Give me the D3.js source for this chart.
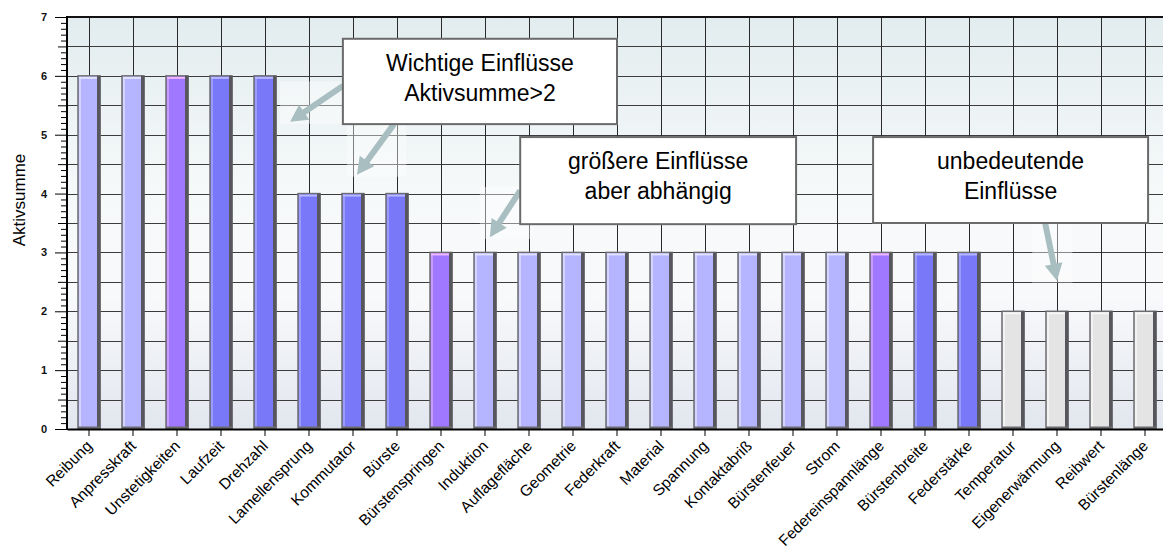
<!DOCTYPE html>
<html>
<head>
<meta charset="utf-8">
<script src="https://cdn.jsdelivr.net/npm/d3@7"></script>
<style>
  html, body { margin: 0; padding: 0; background: #ffffff; }
  svg { display: block; font-family: Arial, "Liberation Sans", sans-serif; }
</style>
</head>
<body>
<svg id="chart" width="1163" height="551"></svg>
<script>
// Influence factors and their active sums
const categories = [
  "Reibung", "Anpresskraft", "Unstetigkeiten", "Laufzeit", "Drehzahl",
  "Lamellensprung", "Kommutator", "Bürste", "Bürstenspringen", "Induktion",
  "Auflagefläche", "Geometrie", "Federkraft", "Material", "Spannung",
  "Kontaktabriß", "Bürstenfeuer", "Strom", "Federeinspannlänge", "Bürstenbreite",
  "Federstärke", "Temperatur", "Eigenerwärmung", "Reibwert", "Bürstenlänge"
];
const values = [6, 6, 6, 6, 6, 4, 4, 4, 3, 3, 3, 3, 3, 3, 3, 3, 3, 3, 3, 3, 3, 2, 2, 2, 2];
const tones = [
  "light", "light", "violet", "blue", "blue",
  "blue", "blue", "blue", "violet", "light",
  "light", "light", "light", "light", "light",
  "light", "light", "light", "violet", "blue",
  "blue", "grey", "grey", "grey", "grey"
];
const yTicks = [0, 1, 2, 3, 4, 5, 6, 7];
const yTitle = "Aktivsumme";

// Callout notes, placed in data units (category index, value)
const callouts = [
  { lines: ["Wichtige Einflüsse", "Aktivsumme>2"], box: [5.77, 12.0, 6.63, 5.18],
    arrows: [{ from: [5.77, 5.83], to: [4.57, 5.22] }, { from: [6.93, 5.18], to: [6.09, 4.32] }] },
  { lines: ["größere Einflüsse", "aber abhängig"], box: [9.8, 16.07, 4.96, 3.48],
    arrows: [{ from: [9.8, 4.05], to: [9.11, 3.26] }] },
  { lines: ["unbedeutende", "Einflüsse"], box: [17.82, 24.07, 4.96, 3.5],
    arrows: [{ from: [21.73, 3.5], to: [22.0, 2.52] }] }
];

const palette = {
  light:  { fill: "#b4b4ff", hi: "#d4d4ff", top: "#e2e2ff" },
  violet: { fill: "#a078ff", hi: "#c89cff", top: "#f0b8ff" },
  blue:   { fill: "#7878f8", hi: "#9a9aff", top: "#b8b8ff" },
  grey:   { fill: "#e4e4e4", hi: "#f2f2f2", top: "#f6f6f6" }
};

const plot = { left: 67, right: 1167, top: 17, bottom: 429 };

const svg = d3.select("#chart");

const x = d3.scaleBand()
  .domain(categories)
  .range([plot.left, plot.right])
  .paddingInner(0.5)
  .paddingOuter(0.25);
const y = d3.scaleLinear().domain([0, 7]).range([plot.bottom, plot.top]);

const xAt = i => x(categories[0]) + x.bandwidth() / 2 + i * x.step();

// Plot background gradient
const defs = svg.append("defs");
const grad = defs.append("linearGradient")
  .attr("id", "bg").attr("x1", 0).attr("y1", 0).attr("x2", 0).attr("y2", 1);
[[0, "#e2ecee"], [0.42, "#f6f9fa"], [0.68, "#f8f9fb"], [1, "#e2e6ee"]].forEach(([o, c]) =>
  grad.append("stop").attr("offset", o).attr("stop-color", c));

svg.append("rect")
  .attr("x", plot.left).attr("y", plot.top)
  .attr("width", plot.right - plot.left).attr("height", plot.bottom - plot.top)
  .attr("fill", "url(#bg)");

// Grid
const grid = svg.append("g");
grid.selectAll("line.h")
  .data(d3.range(1, 14).map(k => k / 2))
  .join("line")
  .attr("x1", plot.left).attr("x2", plot.right)
  .attr("y1", d => Math.round(y(d)) + 0.5).attr("y2", d => Math.round(y(d)) + 0.5)
  .attr("stroke", "#3c3c3c").attr("stroke-width", 1);
grid.selectAll("line.v")
  .data(categories)
  .join("line")
  .attr("x1", d => Math.round(x(d) + x.bandwidth() / 2) + 0.5)
  .attr("x2", d => Math.round(x(d) + x.bandwidth() / 2) + 0.5)
  .attr("y1", plot.top).attr("y2", plot.bottom)
  .attr("stroke", "#2a2a2a").attr("stroke-width", 1);

// Bars with bevelled edges
const bars = svg.append("g").selectAll("g")
  .data(categories.map((c, i) => ({ c, v: values[i], t: palette[tones[i]] })))
  .join("g");

bars.append("rect")
  .attr("x", d => x(d.c)).attr("y", d => y(d.v))
  .attr("width", x.bandwidth()).attr("height", d => y(0) - y(d.v))
  .attr("fill", d => d.t.fill)
  .attr("stroke", "#6c6c70").attr("stroke-width", 1.5);
bars.append("rect")
  .attr("x", d => x(d.c) + 1).attr("y", d => y(d.v) + 1)
  .attr("width", 2).attr("height", d => y(0) - y(d.v) - 2)
  .attr("fill", d => d.t.hi);
bars.append("rect")
  .attr("x", d => x(d.c) + 1).attr("y", d => y(d.v) + 1)
  .attr("width", x.bandwidth() - 4).attr("height", 2)
  .attr("fill", d => d.t.top);
bars.append("rect")
  .attr("x", d => x(d.c) + x.bandwidth() - 3).attr("y", d => y(d.v))
  .attr("width", 3.5).attr("height", d => y(0) - y(d.v))
  .attr("fill", "#56565c");
bars.append("rect")
  .attr("x", d => x(d.c)).attr("y", y(0) - 2.5)
  .attr("width", x.bandwidth()).attr("height", 2.5)
  .attr("fill", "#6c6c70");

// Top frame line
svg.append("line")
  .attr("x1", plot.left).attr("x2", plot.right)
  .attr("y1", plot.top).attr("y2", plot.top)
  .attr("stroke", "#111").attr("stroke-width", 2);

// Y axis with minor ticks
const yMinor = d3.range(1, 70).map(k => k / 10).filter(v => Math.abs(v * 2 - Math.round(v * 2)) > 1e-6);
const yHalf = d3.range(1, 14, 2).map(k => k / 2);
const gyMinor = svg.append("g").attr("transform", `translate(${plot.left},0)`)
  .call(d3.axisLeft(y).tickValues(yMinor).tickSize(6).tickFormat(""));
const gyHalf = svg.append("g").attr("transform", `translate(${plot.left},0)`)
  .call(d3.axisLeft(y).tickValues(yHalf).tickSize(9).tickFormat(""));
const gy = svg.append("g").attr("transform", `translate(${plot.left},0)`)
  .call(d3.axisLeft(y).tickValues(yTicks).tickSize(12).tickPadding(8).tickFormat(d3.format("d")));
[gyMinor, gyHalf, gy].forEach(g => {
  g.select(".domain").remove();
  g.selectAll(".tick line").attr("stroke", "#000").attr("stroke-width", 1);
});
gy.selectAll(".tick text")
  .attr("font-size", 11).attr("font-weight", "bold").attr("fill", "#111")
  .attr("font-family", "Arial, 'Liberation Sans', sans-serif");
svg.append("line")
  .attr("x1", plot.left).attr("x2", plot.left)
  .attr("y1", plot.top - 1).attr("y2", plot.bottom + 1)
  .attr("stroke", "#000").attr("stroke-width", 2);

// X axis
const gx = svg.append("g").attr("transform", `translate(0,${plot.bottom})`)
  .call(d3.axisBottom(x).tickSize(7).tickSizeOuter(0));
gx.select(".domain").attr("stroke", "#000").attr("stroke-width", 2);
gx.selectAll(".tick line").attr("stroke", "#000");
gx.selectAll(".tick text")
  .attr("font-size", 15.5).attr("fill", "#000")
  .attr("font-family", "Arial, 'Liberation Sans', sans-serif")
  .attr("text-anchor", "end")
  .attr("x", 0).attr("y", 0).attr("dy", 0)
  .attr("transform", "translate(4,18) rotate(-45)");

// Y title
svg.append("text")
  .attr("transform", `translate(25,${y(3.89)}) rotate(-90)`)
  .attr("text-anchor", "middle")
  .attr("font-size", 17).attr("fill", "#000")
  .text(yTitle);

// Callouts: arrows (with a faint white haze behind them), then boxes
const arrowShape = (x0, y0, x1, y1) => {
  const dx = x1 - x0, dy = y1 - y0, len = Math.hypot(dx, dy);
  const ux = dx / len, uy = dy / len, px = -uy, py = ux;
  const hl = 17, hw = 9, sw = 3;
  const bx = x1 - ux * hl, by = y1 - uy * hl;
  return [
    [x0 + px * sw, y0 + py * sw], [bx + px * sw, by + py * sw], [bx + px * hw, by + py * hw],
    [x1, y1],
    [bx - px * hw, by - py * hw], [bx - px * sw, by - py * sw], [x0 - px * sw, y0 - py * sw]
  ];
};

const notes = svg.append("g");
callouts.forEach(cb => {
  cb.arrows.forEach(a => {
    const pts = arrowShape(xAt(a.from[0]), y(a.from[1]), xAt(a.to[0]), y(a.to[1]));
    const xs = pts.map(p => p[0]), ys = pts.map(p => p[1]);
    const pad = 10;
    notes.append("rect")
      .attr("x", d3.min(xs) - pad).attr("y", d3.min(ys) - 2)
      .attr("width", d3.max(xs) - d3.min(xs) + 2 * pad).attr("height", d3.max(ys) - d3.min(ys) + 4)
      .attr("fill", "#ffffff").attr("opacity", 0.4);
    notes.append("polygon")
      .attr("points", pts.map(p => p.join(",")).join(" "))
      .attr("fill", "#a8bec0");
  });
});
callouts.forEach(cb => {
  const [i0, i1, v0, v1] = cb.box;
  const bx0 = xAt(i0), bx1 = xAt(i1), by0 = y(v0), by1 = y(v1);
  notes.append("rect")
    .attr("x", bx0).attr("y", by0)
    .attr("width", bx1 - bx0).attr("height", by1 - by0)
    .attr("fill", "#ffffff").attr("stroke", "#6a6a6a").attr("stroke-width", 2);
  cb.lines.forEach((t, k) => {
    notes.append("text")
      .attr("x", (bx0 + bx1) / 2).attr("y", by0 + 32 + k * 30)
      .attr("text-anchor", "middle")
      .attr("font-size", 23).attr("fill", "#000")
      .text(t);
  });
});
</script>
</body>
</html>
